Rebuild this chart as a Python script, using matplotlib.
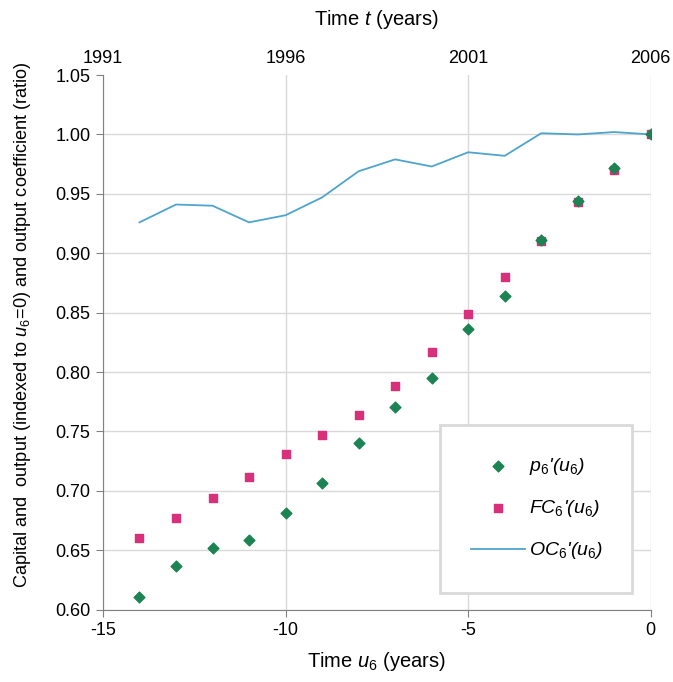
import matplotlib.pyplot as plt

plt.rcParams['font.family'] = ['Liberation Sans', 'DejaVu Sans']
plt.rcParams['mathtext.fontset'] = 'custom'
plt.rcParams['mathtext.rm'] = 'Liberation Sans'
plt.rcParams['mathtext.it'] = 'Liberation Sans:italic'

# Time u6 (years before 2006)
u6 = [-14, -13, -12, -11, -10, -9, -8, -7, -6, -5, -4, -3, -2, -1, 0]

# Indexed series (u6 = 0 -> 1.0)
p6 = [0.611, 0.637, 0.652, 0.659, 0.681, 0.707, 0.740, 0.771, 0.795,
      0.836, 0.864, 0.911, 0.944, 0.972, 1.000]
fc6 = [0.660, 0.677, 0.694, 0.712, 0.731, 0.747, 0.764, 0.788, 0.817,
       0.849, 0.880, 0.910, 0.943, 0.970, 1.000]
oc6 = [0.926, 0.941, 0.940, 0.926, 0.932, 0.947, 0.969, 0.979, 0.973,
       0.985, 0.982, 1.001, 1.000, 1.002, 1.000]

base_year = 2006
x_ticks = [-15, -10, -5, 0]
year_ticks = [1991, 1996, 2001, 2006]
y_ticks = [0.60, 0.65, 0.70, 0.75, 0.80, 0.85, 0.90, 0.95, 1.00, 1.05]

fig = plt.figure(figsize=(6.73, 6.82), dpi=100)
ax = fig.add_axes([0.153, 0.106, 0.814, 0.784])

ax.plot(u6, oc6, color='#4fa4cc', lw=1.3, label="$OC_6$'($u_6$)", zorder=2)
ax.scatter(u6, p6, marker='D', s=30, color='#1b8452', label="$p_6$'($u_6$)", zorder=4)
ax.scatter(u6, fc6, marker='s', s=28, color='#d8307a', label="$FC_6$'($u_6$)", zorder=3)

ax.set_xlim(-15, 0)
ax.set_ylim(0.60, 1.05)
ax.set_xticks(x_ticks)
ax.set_xticklabels([str(v) for v in x_ticks])
ax.set_yticks(y_ticks)
ax.set_yticklabels([f"{v:.2f}" for v in y_ticks])
ax.grid(True, color='#d9d9d9', lw=1)
ax.set_axisbelow(True)
ax.get_ygridlines()[-1].set_visible(False)

for side in ['top', 'right']:
    ax.spines[side].set_visible(False)
for side in ['left', 'bottom']:
    ax.spines[side].set_color('#808080')
ax.tick_params(axis='both', colors='#808080', labelcolor='black', labelsize=13, length=5)
ax.tick_params(axis='x', pad=4)
ax.tick_params(axis='y', pad=4)

ax.set_xlabel("Time $u_6$ (years)", fontsize=14.5, labelpad=8)
ax.set_ylabel("Capital and  output (indexed to $u_6$=0) and output coefficient (ratio)",
              fontsize=13.1)
ax.yaxis.set_label_coords(-0.128, 0.534)

top = ax.secondary_xaxis('top', functions=(lambda u: u + base_year, lambda t: t - base_year))
top.set_xticks(year_ticks)
top.set_xticklabels([str(v) for v in year_ticks])
top.tick_params(length=0, labelsize=13, pad=6)
top.spines['top'].set_visible(False)
top.set_xlabel("Time $t$ (years)", fontsize=14.5, labelpad=18)

handles, labels = ax.get_legend_handles_labels()
order = [1, 2, 0]
leg = ax.legend([handles[i] for i in order], [labels[i] for i in order],
                loc='lower left', bbox_to_anchor=(0.615, 0.032, 0.350, 0.314),
                mode='expand', borderaxespad=0, labelspacing=1.08, borderpad=1.6,
                handlelength=2.8, handletextpad=0.2, fancybox=False,
                framealpha=1, edgecolor='#d9d9d9', prop={'style': 'italic', 'size': 14})
leg.get_frame().set_linewidth(2)

plt.savefig('out.png', dpi=100)
